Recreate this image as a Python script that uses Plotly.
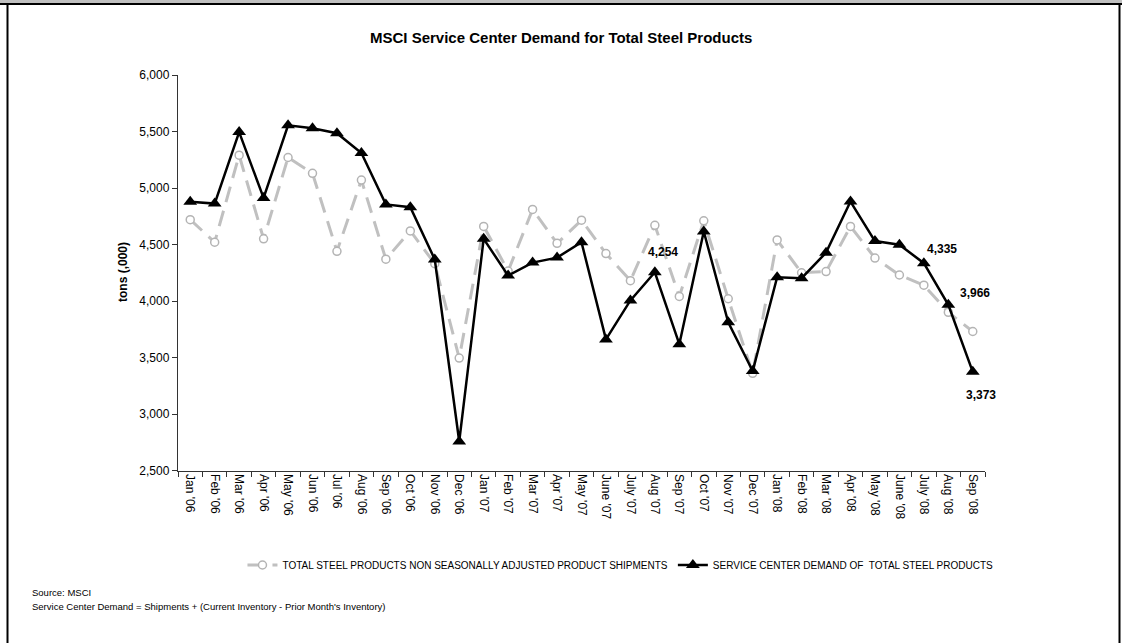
import plotly.graph_objects as go

months = ["Jan '06", "Feb '06", "Mar '06", "Apr '06", "May '06", "Jun '06", "Jul '06", "Aug '06",
          "Sep '06", "Oct '06", "Nov '06", "Dec '06", "Jan '07", "Feb '07", "Mar '07", "Apr '07",
          "May '07", "June '07", "July '07", "Aug '07", "Sep '07", "Oct '07", "Nov '07", "Dec '07",
          "Jan '08", "Feb '08", "Mar '08", "Apr '08", "May '08", "June '08", "July '08", "Aug '08",
          "Sep '08"]

shipments = [4720, 4520, 5290, 4550, 5270, 5130, 4440, 5070,
             4370, 4620, 4330, 3495, 4660, 4265, 4810, 4510,
             4715, 4420, 4180, 4670, 4040, 4710, 4020, 3360,
             4540, 4250, 4260, 4660, 4380, 4230, 4140, 3900,
             3730]

demand = [4878, 4862, 5495, 4912, 5555, 5528, 5485, 5310,
          4855, 4830, 4368, 2757, 4550, 4225, 4340, 4384,
          4520, 3660, 4005, 4254, 3618, 4615, 3812, 3380,
          4210, 4202, 4428, 4880, 4530, 4498, 4335, 3966,
          3373]

labelled = {"Aug '07": (8, 20), "July '08": (18, 14), "Aug '08": (27, 12), "Sep '08": (8, -23)}

W, H = 1122, 643
font = "Liberation Sans, Arial, sans-serif"

fig = go.Figure()
fig.add_trace(go.Scatter(
    x=months, y=shipments, mode="lines+markers",
    name="TOTAL STEEL PRODUCTS NON SEASONALLY ADJUSTED PRODUCT SHIPMENTS",
    line=dict(color="#c0c0c0", width=3, dash="16px,9px"),
    marker=dict(symbol="circle", size=8, color="white", line=dict(color="#b4b4b4", width=1.5)),
))
fig.add_trace(go.Scatter(
    x=months, y=demand, mode="lines+markers",
    name="SERVICE CENTER DEMAND OF &nbsp;TOTAL STEEL PRODUCTS",
    line=dict(color="black", width=2.5),
    marker=dict(symbol="triangle-up", size=12, color="black"),
))

for m, (dx, dy) in labelled.items():
    v = demand[months.index(m)]
    fig.add_annotation(x=m, y=v, text=f"<b>{v:,}</b>", showarrow=False,
                       xshift=dx, yshift=dy, font=dict(size=12, color="black", family=font))

x0, x1 = 178 / W, 985 / W
y0, y1 = 1 - 470.5 / H, 1 - 75 / H

fig.update_layout(
    width=W, height=H, margin=dict(l=0, r=0, t=0, b=0),
    paper_bgcolor="white", plot_bgcolor="white",
    font=dict(family=font, color="black", size=12),
    showlegend=True,
    legend=dict(orientation="h", x=0.553, xanchor="center", y=1 - 565 / H, yanchor="middle",
                font=dict(size=10, family=font), itemwidth=30, tracegroupgap=0,
                bgcolor="rgba(0,0,0,0)"),
    xaxis=dict(domain=[x0, x1], type="category", range=[-0.5, len(months) - 0.5],
               showgrid=False, showline=True, linecolor="#333", linewidth=1.2,
               ticks="outside", ticklen=5, tickcolor="#333", tickson="boundaries",
               tickangle=90, tickfont=dict(size=12), automargin=False),
    yaxis=dict(domain=[y0, y1], range=[2500, 6000], dtick=500, tickformat=",",
               showgrid=False, showline=True, linecolor="#333", linewidth=1.2,
               ticks="outside", ticklen=5, tickcolor="#333", tickfont=dict(size=12),
               zeroline=False, automargin=False),
)

fig.add_annotation(xref="paper", yref="paper", x=561 / W, y=1 - 38 / H,
                   text="<b>MSCI Service Center Demand for Total Steel Products</b>",
                   showarrow=False, font=dict(size=15, family=font), xanchor="center", yanchor="middle")
fig.add_annotation(xref="paper", yref="paper", x=123 / W, y=1 - 272 / H,
                   text="<b>tons (,000)</b>", textangle=-90,
                   showarrow=False, font=dict(size=12, family=font), xanchor="center", yanchor="middle")
fig.add_annotation(xref="paper", yref="paper", x=30 / W, y=1 - 592 / H,
                   text="Source: MSCI", showarrow=False, font=dict(size=9.5, family=font),
                   xanchor="left", yanchor="middle")
fig.add_annotation(xref="paper", yref="paper", x=30 / W, y=1 - 606 / H,
                   text="Service Center Demand = Shipments + (Current Inventory - Prior Month's Inventory)",
                   showarrow=False, font=dict(size=9.5, family=font), xanchor="left", yanchor="middle")

# frame
fig.add_shape(type="rect", xref="paper", yref="paper", x0=0, x1=1, y0=1 - 3 / H, y1=1,
              fillcolor="#c0c0c0", line=dict(width=0), layer="above")
fig.add_shape(type="rect", xref="paper", yref="paper", x0=0, x1=1, y0=1 - 5 / H, y1=1 - 3 / H,
              fillcolor="black", line=dict(width=0), layer="above")
fig.add_shape(type="rect", xref="paper", yref="paper", x0=6.5 / W, x1=8.5 / W, y0=0, y1=1 - 3 / H,
              fillcolor="black", line=dict(width=0), layer="above")
fig.add_shape(type="rect", xref="paper", yref="paper", x0=1118.5 / W, x1=1120.5 / W, y0=0, y1=1 - 3 / H,
              fillcolor="black", line=dict(width=0), layer="above")

fig.write_html("out.html", config={"displayModeBar": False, "staticPlot": True},
               post_script=("document.documentElement.style.margin='0';document.body.style.margin='0';"
                            "document.body.style.padding='0';document.documentElement.style.overflow='hidden';"
                            "document.body.style.overflow='hidden';window.scrollTo(0,0);"))
